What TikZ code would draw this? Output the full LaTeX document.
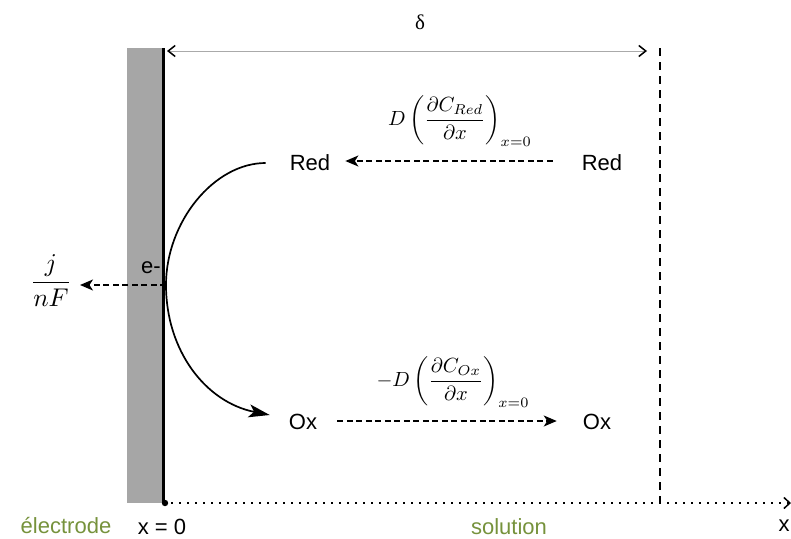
\documentclass[tikz,border=0pt]{standalone}
\usepackage{fontspec}
\setmainfont{Liberation Sans}
\newfontfamily\greekserif{Liberation Serif}
\usetikzlibrary{arrows.meta}
\definecolor{olivetxt}{RGB}{118,146,60}
\definecolor{elgray}{RGB}{166,166,166}
\definecolor{dimline}{RGB}{170,170,170}
\begin{document}
\begin{tikzpicture}[x=1pt,y=-1pt,
  lbl/.style={font=\fontsize{22}{26}\selectfont, inner sep=0pt},
  greenlbl/.style={lbl, text=olivetxt},
  mth/.style={scale=2.05, inner sep=0pt},
  flux/.style={line width=1.6pt, dash pattern=on 6pt off 3.5pt, -{Stealth[length=13pt,width=11pt,inset=3.5pt]}},
  react/.style={line width=1.7pt, -{Stealth[length=21pt,width=13pt,inset=5pt]}},
  dimarrow/.style={draw=dimline, line width=1pt, {Straight Barb[length=7pt,width=11pt,line width=1.5pt,color=black]}-{Straight Barb[length=7pt,width=11pt,line width=1.5pt,color=black]}},
  bulkline/.style={line width=1.3pt, dash pattern=on 8pt off 6pt},
  axisline/.style={line width=1.5pt, dash pattern=on 1.5pt off 6.5pt, -{Straight Barb[length=6pt,width=11pt,line width=1.5pt]}}
]
\useasboundingbox (0,0) rectangle (791,538);

% electrode
\fill[elgray] (127,48) rectangle (162,503);
\coordinate (etop) at (163,48);
\coordinate (origin) at (163,503);
\draw[line width=3pt] (etop) -- (origin);
\fill (165,503) circle (3.2pt);

% diffusion layer
\coordinate (dtop) at (660,48);
\coordinate (dbot) at (660,503);
\draw[bulkline] (dtop) -- (dbot);
\coordinate (dl) at (167,51);
\coordinate (dr) at (647,51);
\draw[dimarrow] (dl) -- (dr);
\node[inner sep=0pt, font=\greekserif\fontsize{21}{24}\selectfont] (delta) at (420,22) {δ};

% x axis
\coordinate (xend) at (791,503);
\draw[axisline] (origin) -- (xend);
\node[lbl] (xlab) at (784,526) {x};

% species
\node[lbl] (redL) at (310,163) {Red};
\node[lbl] (redR) at (602,163) {Red};
\node[lbl] (oxL) at (303,422) {Ox};
\node[lbl] (oxR) at (597,422) {Ox};

% fluxes
\draw[flux] ([xshift=-29pt,yshift=2pt]redR.west) -- ([xshift=15pt,yshift=2pt]redL.east);
\draw[flux] ([xshift=20pt,yshift=1pt]oxL.east) -- ([xshift=-26pt,yshift=1pt]oxR.west);
\node[mth] (fluxred) at (460,121) {$\displaystyle D\left(\frac{\partial C_{Red}}{\partial x}\right)_{x=0}$};
\node[mth] (fluxox) at (453,382) {$\displaystyle -D\left(\frac{\partial C_{Ox}}{\partial x}\right)_{x=0}$};

% electron transfer
\coordinate (surf) at (166,285);
\draw[react] ([xshift=-24pt]redL.west) .. controls (214,163) and (166,222) .. (surf)
  .. controls (166,350) and (205,402) .. ([xshift=-19pt,yshift=7pt]oxL.west);
\node[lbl] (elec) at (151,268) {e-};
\draw[flux] (surf) -- (80,285) coordinate (jtip);
\node[mth, scale=1.25] (jnf) at (51,281) {$\displaystyle\frac{j}{nF}$};

% labels
\node[greenlbl] (eleclab) at (66,525) {électrode};
\node[lbl] (x0) at (162,527) {x = 0};
\node[greenlbl] (sollab) at (509,527) {solution};
\end{tikzpicture}
\end{document}
